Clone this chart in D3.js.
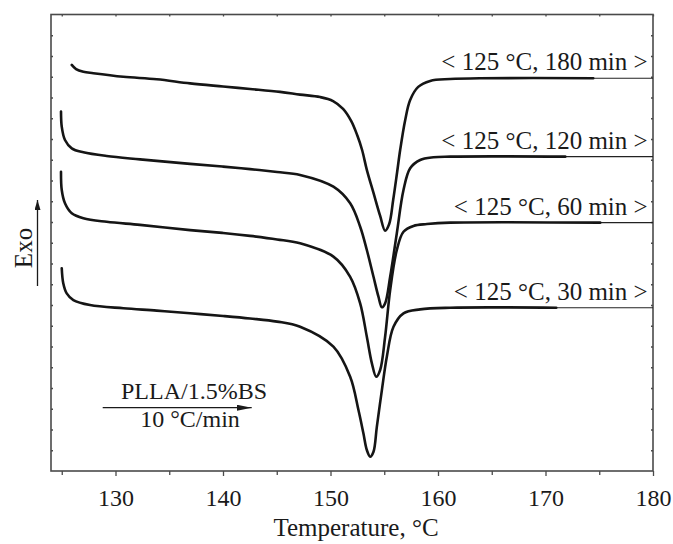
<!DOCTYPE html>
<html>
<head>
<meta charset="utf-8">
<script src="https://cdn.jsdelivr.net/npm/d3@7"></script>
<style>
body {margin:0; background:#fff}
text {font-family: "Liberation Serif", "Times New Roman", serif; fill:#1a1a1a}
</style>
</head>
<body>
<svg width="673" height="544"></svg>
<script>
/*** Data (y in arbitrary units) ***/
var majorTicks = [130, 140, 150, 160, 170, 180]
var minorTicks = [125, 135, 145, 155, 165, 175]
var yTicks = d3.range(1, 22)

var series = ["180 min", "120 min", "60 min", "30 min"]
var labels = ["< 125 °C, 180 min >", "< 125 °C, 120 min >", "< 125 °C, 60 min >", "< 125 °C, 30 min >"]

var temp180 = [125.93,126.33,127.01,127.94,130.73,133.84,136.94,140.01,142.52,145.31,147.17,149.03,150.24,151.17,151.92,152.48,152.94,153.38,154.00,154.62,155.08,155.46,155.83,156.20,156.48,156.95,157.41,158.16,159.27,161.13,163.92,174.44]
var dsc180  = [19.57,19.37,19.24,19.17,19.00,18.88,18.68,18.53,18.41,18.27,18.14,18.02,17.83,17.45,16.87,16.19,15.47,14.51,13.40,12.29,11.58,11.90,13.06,14.41,15.47,16.92,17.88,18.51,18.80,18.89,18.93,18.93]

var temp120 = [124.93,125.00,125.30,125.93,127.01,129.18,132.28,136.94,140.01,142.52,145.03,147.17,150.27,151.83,152.76,153.38,154.00,154.46,154.78,155.08,155.55,156.17,156.79,157.41,158.34,159.58,161.13,171.84]
var dsc120  = [17.32,16.59,15.95,15.55,15.36,15.18,15.02,14.80,14.67,14.55,14.41,14.27,13.70,12.90,11.77,10.65,9.36,8.40,7.89,8.08,9.36,11.46,13.54,14.59,14.99,15.12,15.15,15.15]

var temp60 = [124.93,125.00,125.30,125.93,127.01,129.18,132.28,136.94,140.01,142.52,145.03,147.17,150.27,151.83,152.76,153.38,153.85,154.25,154.62,155.08,155.55,156.17,156.79,157.72,158.97,161.13,175.09]
var dsc60  = [14.42,13.54,12.90,12.42,12.18,12.01,11.86,11.61,11.47,11.33,11.16,10.97,10.33,9.36,8.08,6.47,5.19,4.54,4.87,6.47,8.72,10.65,11.53,11.81,11.90,11.97,11.97]

var temp30 = [125.00,125.14,125.46,126.08,127.63,130.73,133.84,136.94,140.01,142.52,145.03,147.17,150.27,151.83,152.60,153.06,153.38,153.69,154.00,154.31,154.78,155.24,155.86,156.79,158.34,161.13,171.00]
var dsc30  = [9.77,9.05,8.56,8.24,8.00,7.84,7.73,7.60,7.47,7.35,7.20,6.95,5.99,4.54,2.94,1.82,1.01,0.69,0.93,2.13,3.90,5.51,6.95,7.60,7.79,7.87,7.87]

/*** Build ***/
var temps = [temp180, temp120, temp60, temp30]
var dscs  = [dsc180, dsc120, dsc60, dsc30]
var data = series.map((s, i) => ({name: s, label: labels[i], pts: temps[i].map((t, j) => [t, dscs[i][j]])}))

var svg = d3.select("svg")
var m = {l: 51, r: 653, t: 14.5, b: 471}
var x = d3.scaleLinear().domain([124, 180]).range([m.l, m.r])
var y = d3.scaleLinear().domain([0, 22]).range([m.b, m.t])
var axisCol = "#4a4a4a"

// ticks
var gx = svg.append("g").attr("transform", "translate(0," + m.b + ")")
gx.call(d3.axisBottom(x).tickValues(majorTicks).tickSize(5).tickSizeOuter(0).tickPadding(13))
gx.append("g").call(d3.axisBottom(x).tickValues(minorTicks).tickSize(4).tickFormat(""))
gx.selectAll(".domain").remove()
gx.selectAll("line").attr("stroke", axisCol).attr("stroke-width", 1.3)
gx.selectAll("text").attr("font-size", 24).attr("fill", "#1a1a1a")
  .style("font-family", '"Liberation Serif", serif')

var gt = svg.append("g").attr("transform", "translate(0," + m.t + ")")
	.call(d3.axisTop(x).tickValues(majorTicks.concat(minorTicks)).tickSize(-2).tickFormat(""))
var gl = svg.append("g").attr("transform", "translate(" + m.l + ",0)")
	.call(d3.axisLeft(y).tickValues(yTicks).tickSize(-2).tickFormat(""))
var gr = svg.append("g").attr("transform", "translate(" + m.r + ",0)")
	.call(d3.axisRight(y).tickValues(yTicks).tickSize(-2).tickFormat(""))
;[gt, gl, gr].forEach((g) => {
	g.selectAll(".domain").remove()
	g.selectAll("line").attr("stroke", axisCol).attr("stroke-width", 1.3)
})

svg.append("rect")
   .attr("x", m.l).attr("y", m.t)
   .attr("width", m.r - m.l).attr("height", m.b - m.t)
   .attr("fill", "none").attr("stroke", axisCol).attr("stroke-width", 1.6)

// curves
var line = d3.line().x((d) => x(d[0])).y((d) => y(d[1])).curve(d3.curveCatmullRom.alpha(0.5))
var g = svg.append("g")
g.selectAll("path.thin")
 .data(data).enter().append("path")
 .attr("class", "thin")
 .attr("d", (d) => {var e = d.pts[d.pts.length - 1]; return line([e, [180, e[1]]])})
 .attr("fill", "none").attr("stroke", "#222").attr("stroke-width", 1.1)
g.selectAll("path.dsc")
 .data(data).enter().append("path")
 .attr("class", "dsc")
 .attr("d", (d) => line(d.pts))
 .attr("fill", "none").attr("stroke", "#151515").attr("stroke-width", 2.6)
 .attr("stroke-linecap", "round")

g.selectAll("text.lab")
 .data(data).enter().append("text")
 .attr("class", "lab")
 .attr("x", x(179.5))
 .attr("y", (d) => y(d.pts[d.pts.length - 1][1]) - 8)
 .attr("text-anchor", "end")
 .attr("font-size", 25)
 .text((d) => d.label)

// x title
svg.append("text")
   .attr("x", (m.l + m.r) / 2 + 4).attr("y", 536)
   .attr("text-anchor", "middle").attr("font-size", 25)
   .text("Temperature, °C")

// Exo arrow
var defs = svg.append("defs")
defs.append("marker").attr("id", "ah")
	.attr("viewBox", "0 0 10 6").attr("refX", 10).attr("refY", 3)
	.attr("markerWidth", 10).attr("markerHeight", 6).attr("markerUnits", "userSpaceOnUse")
	.attr("orient", "auto")
	.append("path").attr("d", "M0,0L10,3L0,6Z").attr("fill", "#1a1a1a")
defs.append("marker").attr("id", "ah2")
	.attr("viewBox", "0 0 15 6").attr("refX", 15).attr("refY", 3)
	.attr("markerWidth", 15).attr("markerHeight", 6).attr("markerUnits", "userSpaceOnUse")
	.attr("orient", "auto")
	.append("path").attr("d", "M0,0L15,3L0,6Z").attr("fill", "#1a1a1a")

svg.append("line")
   .attr("x1", 37.5).attr("y1", 286).attr("x2", 37.5).attr("y2", 200)
   .attr("stroke", "#1a1a1a").attr("stroke-width", 1.3).attr("marker-end", "url(#ah)")
svg.append("text")
   .attr("transform", "translate(32,248) rotate(-90)")
   .attr("text-anchor", "middle").attr("font-size", 25)
   .text("Exo")

// sample / rate note
svg.append("text").attr("x", 194).attr("y", 399)
   .attr("text-anchor", "middle").attr("font-size", 24).text("PLLA/1.5%BS")
svg.append("line")
   .attr("x1", 102.7).attr("y1", 407.7).attr("x2", 251.7).attr("y2", 407.7)
   .attr("stroke", "#1a1a1a").attr("stroke-width", 1.3).attr("marker-end", "url(#ah2)")
svg.append("text").attr("x", 190).attr("y", 427)
   .attr("text-anchor", "middle").attr("font-size", 24).text("10 °C/min")
</script>
</body>
</html>
